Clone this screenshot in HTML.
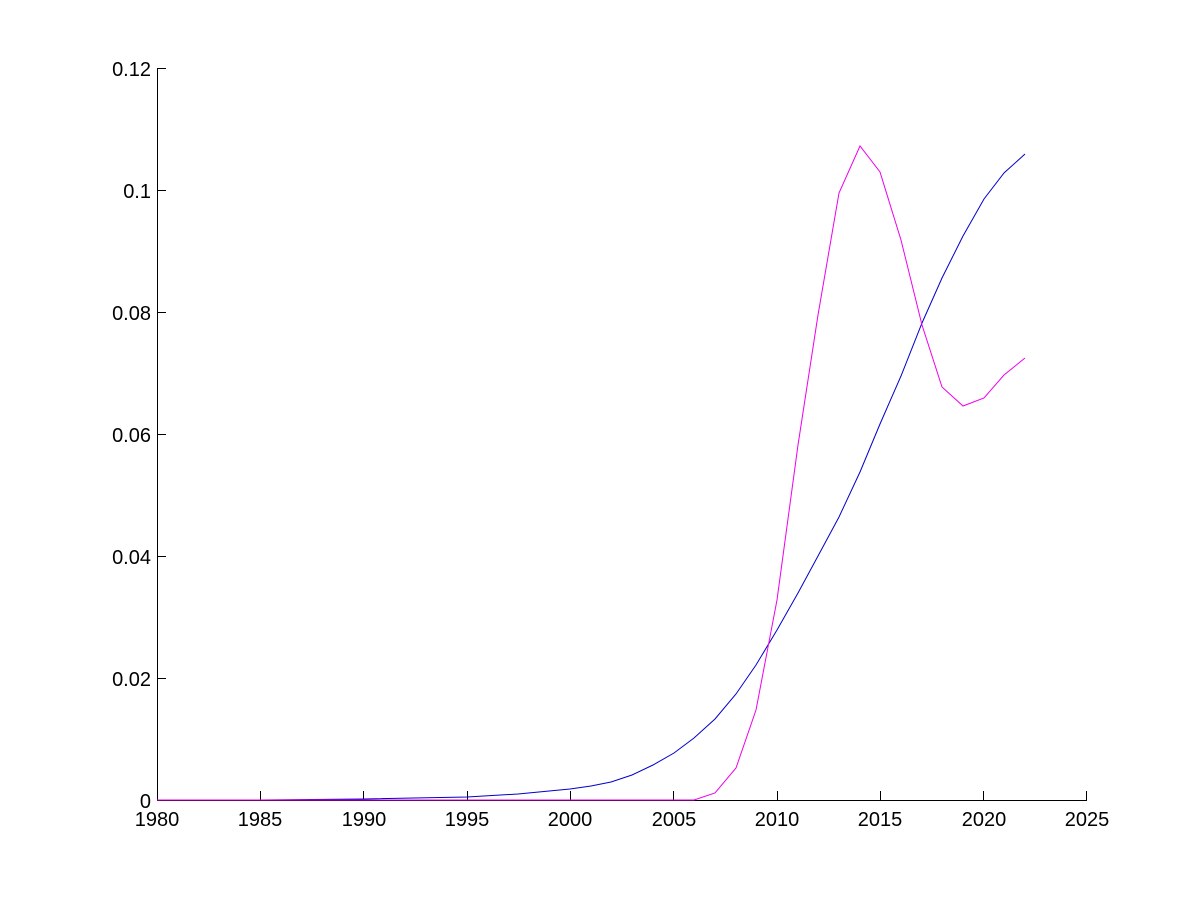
<!DOCTYPE html>
<html><head><meta charset="utf-8"><style>body{margin:0;background:#fff}svg{display:block}</style></head>
<body>
<svg width="1200" height="900" xmlns="http://www.w3.org/2000/svg" font-family="Liberation Sans, sans-serif" font-size="20">
<rect width="1200" height="900" fill="#fff"/>
<g stroke="#000" stroke-width="1" fill="none">
<line x1="157.5" y1="68" x2="157.5" y2="800.5"/>
<line x1="157" y1="800.5" x2="1087" y2="800.5"/>
<path d="M157 68.5h9M157 190.5h9M157 312.5h9M157 434.5h9M157 556.5h9M157 678.5h9
M260.5 800v-9M363.5 800v-9M467.5 800v-9M570.5 800v-9M673.5 800v-9M777.5 800v-9M880.5 800v-9M983.5 800v-9M1086.5 800v-9"/>
</g>
<g text-anchor="end">
<text x="151" y="76">0.12</text><text x="151" y="198">0.1</text><text x="151" y="320">0.08</text>
<text x="151" y="442">0.06</text><text x="151" y="564">0.04</text><text x="151" y="686">0.02</text><text x="151" y="808">0</text>
</g>
<g text-anchor="middle">
<text x="157" y="826">1980</text><text x="260" y="826">1985</text><text x="364" y="826">1990</text><text x="467" y="826">1995</text>
<text x="570" y="826">2000</text><text x="674" y="826">2005</text><text x="777" y="826">2010</text><text x="880" y="826">2015</text>
<text x="984" y="826">2020</text><text x="1087" y="826">2025</text>
</g>
<polyline fill="none" stroke="#0000cc" stroke-width="1" points="157,800 260,800 364,799 467,797 518,794 570,789 591,786 611,782 632,775 653,765 674,753 694,738 715,719 736,694 756,665 777,630 798,593 818,556 839,517 860,472 880,424 901,376 922,323 942,278 963,236 984,199 1004,173 1025,154"/>
<polyline fill="none" stroke="#ee00ee" stroke-width="1" points="157,800 694,800 715,793 736,768 756,710 777,600 798,445 818,315 839,193 860,146 880,172 901,240 922,325 942,387 963,406 984,398 1004,375 1025,358"/>
</svg>
</body></html>
